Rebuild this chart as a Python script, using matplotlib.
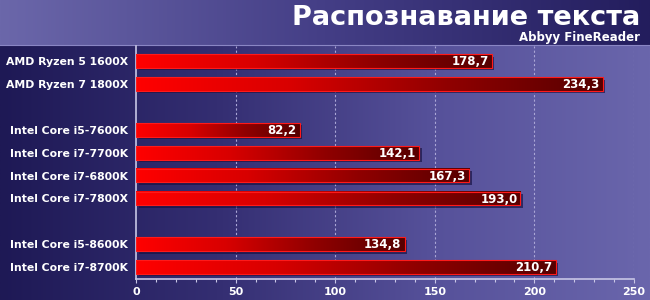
import numpy as np
import matplotlib
matplotlib.use("Agg")
import matplotlib.pyplot as plt
from matplotlib.colors import LinearSegmentedColormap
from matplotlib.patches import Rectangle
import matplotlib.transforms as mtransforms

title = "Распознавание текста"
subtitle = "Abbyy FineReader"
groups = [
    ["AMD Ryzen 5 1600X", "AMD Ryzen 7 1800X"],
    ["Intel Core i5-7600K", "Intel Core i7-7700K", "Intel Core i7-6800K", "Intel Core i7-7800X"],
    ["Intel Core i5-8600K", "Intel Core i7-8700K"],
]
values = [
    [178.7, 234.3],
    [82.2, 142.1, 167.3, 193.0],
    [134.8, 210.7],
]
xticks = [0, 50, 100, 150, 200, 250]

W, H = 650, 300
fig = plt.figure(figsize=(W / 100, H / 100), dpi=100)

# background
bg = fig.add_axes([0, 0, 1, 1])
bg.set_axis_off()
main_cmap = LinearSegmentedColormap.from_list("m", ["#1e1955", "#342e72", "#56519a", "#6a66ac"])
grad = np.linspace(0, 1, 256).reshape(1, -1)
bg.imshow(grad, extent=[0, 1, 0, 1], aspect="auto", cmap=main_cmap, zorder=0)
head_cmap = LinearSegmentedColormap.from_list("h", ["#6b67aa", "#443e86", "#231d5d"])
hy = 1 - 45 / H
bg.imshow(grad, extent=[0, 1, hy, 1], aspect="auto", cmap=head_cmap, zorder=1)
bg.plot([0, 1], [hy, hy], color="#8a86c4", lw=0.8, zorder=2)
bg.set_xlim(0, 1); bg.set_ylim(0, 1)

fig.text(640 / W, 1 - 18 / H, title, ha="right", va="center", color="white",
         fontsize=19.5, fontweight="bold", family="DejaVu Sans")
fig.text(640 / W, 1 - 37 / H, subtitle, ha="right", va="center", color="white",
         fontsize=8.5, fontweight="bold", family="DejaVu Sans")

# axes
x0, x1 = 136, 634
ytop, ybot = 46, 279
ax = fig.add_axes([x0 / W, 1 - ybot / H, (x1 - x0) / W, (ybot - ytop) / H])
ax.patch.set_alpha(0)

labels, vals, pos = [], [], []
p = 0
for g, v in zip(groups, values):
    for lab, val in zip(g, v):
        labels.append(lab); vals.append(val); pos.append(p)
        p += 1
    p += 1

bar_cmap = LinearSegmentedColormap.from_list("b", ["#ff0000", "#d80000", "#900000", "#560000"])
bh = 0.6
shadow_tr = mtransforms.offset_copy(ax.transData, fig=fig, x=2.5, y=-2.5, units="dots")
for y, v in zip(pos, vals):
    ax.add_patch(Rectangle((0, y - bh / 2), v, bh, transform=shadow_tr,
                           facecolor="#151040", alpha=0.65, edgecolor="none", zorder=2))
    ax.imshow(grad, extent=[0, v, y + bh / 2, y - bh / 2], aspect="auto",
              cmap=bar_cmap, zorder=3, interpolation="bilinear")
    ax.add_patch(Rectangle((0, y - bh / 2), v, bh, facecolor="none",
                           edgecolor="#ff1a1a", lw=0.8, zorder=4))
    ax.text(v - 1.5, y + 0.03, f"{v:.1f}".replace(".", ","), ha="right", va="center",
            color="white", fontsize=8.5, fontweight="bold", zorder=5)

ax.set_xlim(0, 250)
ax.set_ylim(pos[-1] + 0.52, -0.66)
ax.set_yticks(pos)
ax.set_yticklabels(labels, color="white", fontsize=7.8, fontweight="bold")
ax.tick_params(axis="y", length=0, pad=6)
ax.set_xticks(xticks)
ax.set_xticks(np.arange(0, 251, 10), minor=True)
ax.set_xticklabels([str(t) for t in xticks], color="white", fontsize=8, fontweight="bold")
ax.tick_params(axis="x", which="both", direction="out", color="#c8c6e6", length=3, width=0.8, pad=3)
ax.tick_params(axis="x", which="minor", length=2)
for s in ["top", "right"]:
    ax.spines[s].set_visible(False)
for s in ["left", "bottom"]:
    ax.spines[s].set_color("#c8c6e6")
    ax.spines[s].set_linewidth(1.2)
for t in xticks[1:]:
    ax.axvline(t, color="#aaa6d6", lw=0.8, ls=(0, (2, 2)), zorder=1)

fig.savefig("out.png", dpi=100)
